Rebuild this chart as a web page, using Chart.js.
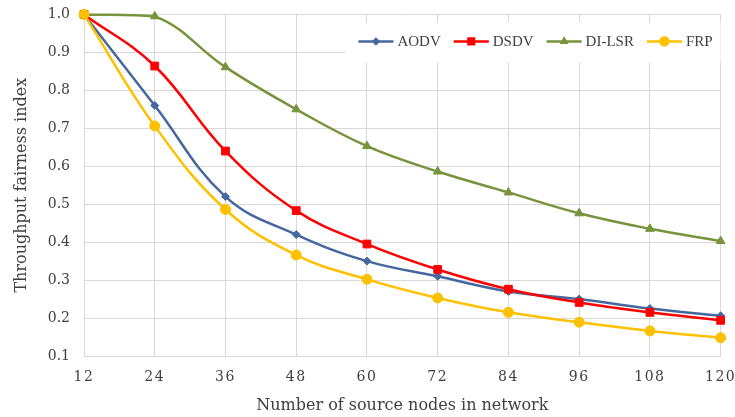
<!DOCTYPE html>
<html>
<head>
<meta charset="utf-8">
<script src="https://cdn.jsdelivr.net/npm/chart.js@4"></script>
<style>
  body { margin: 0; background: #fff; }
  #chart { display: block; }
</style>
</head>
<body>
<canvas id="chart" width="735" height="417"></canvas>
<script>
const nodes = ["12", "24", "36", "48", "60", "72", "84", "96", "108", "120"];
const aodv = [1.0, 0.76, 0.52, 0.42, 0.35, 0.31, 0.27, 0.25, 0.225, 0.206];
const dsdv = [1.0, 0.864, 0.64, 0.483, 0.395, 0.328, 0.276, 0.241, 0.215, 0.194];
const dilsr = [1.0, 0.995, 0.861, 0.75, 0.653, 0.586, 0.531, 0.476, 0.435, 0.403];
const frp = [1.0, 0.706, 0.486, 0.366, 0.302, 0.253, 0.215, 0.189, 0.166, 0.148];
const yTicks = [0.1, 0.2, 0.3, 0.4, 0.5, 0.6, 0.7, 0.8, 0.9, 1.0];

const FONT = "'DejaVu Serif', 'Liberation Serif', serif";
const LEGEND_FONT = "15px 'Liberation Serif', serif";
const TEXT = "#404040";
const GRID = "#d9d9d9";

function makeSet(label, data, color, style, r, order) {
  return {
    label,
    data,
    borderColor: color,
    backgroundColor: color,
    borderWidth: 2.5,
    pointStyle: style,
    pointRadius: r,
    pointHoverRadius: r,
    pointBorderWidth: 1,
    pointBorderColor: color,
    pointBackgroundColor: color,
    tension: 0.4,
    fill: false,
    clip: false,
    order
  };
}

// legend inside the plot, top right, on a white box (line + marker per series)
const insideLegend = {
  id: "insideLegend",
  afterDraw(chart) {
    const ctx = chart.ctx;
    const area = chart.chartArea;
    const iconW = 35, gap = 4, itemGap = 13;
    const cy = area.top + 27;
    ctx.save();
    ctx.font = LEGEND_FONT;
    const sets = chart.data.datasets;
    const widths = sets.map(ds => ctx.measureText(ds.label).width);
    let total = 0;
    widths.forEach((w, i) => { total += iconW + gap + w + (i < sets.length - 1 ? itemGap : 0); });
    let x = area.right - 8 - total;
    ctx.fillStyle = "#fff";
    ctx.fillRect(x - 13, area.top + 8, area.right - x + 13, 40);
    sets.forEach((ds, i) => {
      ctx.strokeStyle = ds.borderColor;
      ctx.lineWidth = 2.5;
      ctx.beginPath();
      ctx.moveTo(x, cy);
      ctx.lineTo(x + iconW, cy);
      ctx.stroke();
      ctx.fillStyle = ds.borderColor;
      Chart.helpers.drawPoint(ctx, { pointStyle: ds.pointStyle, radius: ds.pointRadius, rotation: 0, borderWidth: 0 }, x + iconW / 2, cy);
      ctx.fill();
      ctx.fillStyle = TEXT;
      ctx.textBaseline = "middle";
      ctx.textAlign = "left";
      ctx.fillText(ds.label, x + iconW + gap, cy + 1);
      x += iconW + gap + widths[i] + itemGap;
    });
    ctx.restore();
  }
};

// spaced digits on the category axis
const spacedTicks = {
  id: "spacedTicks",
  afterLayout(chart) {
    const sx = chart.scales.x;
    if (sx._spaced) return;
    const orig = sx.drawLabels;
    sx.drawLabels = function (area) {
      const ctx = this.ctx;
      ctx.save();
      ctx.letterSpacing = "1.5px";
      orig.call(this, area);
      ctx.restore();
    };
    sx._spaced = true;
  }
};

new Chart(document.getElementById("chart").getContext("2d"), {
  type: "line",
  data: {
    labels: nodes,
    datasets: [
      makeSet("AODV", aodv, "#44689e", "rectRot", 4, 3),
      makeSet("DSDV", dsdv, "#ff0000", "rect", 5.5, 2),
      makeSet("DI-LSR", dilsr, "#77933c", "triangle", 5, 1),
      makeSet("FRP", frp, "#ffc000", "circle", 5, 0)
    ]
  },
  options: {
    responsive: false,
    animation: false,
    layout: { padding: 0 },
    plugins: {
      tooltip: { enabled: false },
      legend: { display: false }
    },
    scales: {
      x: {
        grid: { color: GRID, drawTicks: true, tickLength: 12, tickColor: "rgba(0,0,0,0)" },
        border: { color: GRID },
        ticks: { color: TEXT, font: { family: FONT, size: 14 }, padding: 1, maxRotation: 0 },
        afterFit(scale) { scale.height = 61; },
        title: {
          display: true,
          text: "Number of source nodes in network",
          color: TEXT,
          font: { family: FONT, size: 16 },
          padding: { top: 9, bottom: 2 }
        }
      },
      y: {
        min: 0.1,
        max: 1.0,
        afterBuildTicks(axis) {
          axis.ticks = yTicks.map(v => ({ value: v }));
        },
        afterFit(scale) { scale.width = 84; },
        grid: { color: GRID, drawTicks: true, tickLength: 8, tickColor: "rgba(0,0,0,0)" },
        border: { color: GRID },
        ticks: {
          color: TEXT,
          font: { family: FONT, size: 14 },
          padding: 6,
          callback: v => Number(v).toFixed(1)
        },
        title: {
          display: true,
          text: "Throughput fairness index",
          color: TEXT,
          font: { family: FONT, size: 16 },
          padding: { top: 12, bottom: 0 }
        }
      }
    }
  },
  plugins: [insideLegend, spacedTicks]
});
</script>
</body>
</html>
